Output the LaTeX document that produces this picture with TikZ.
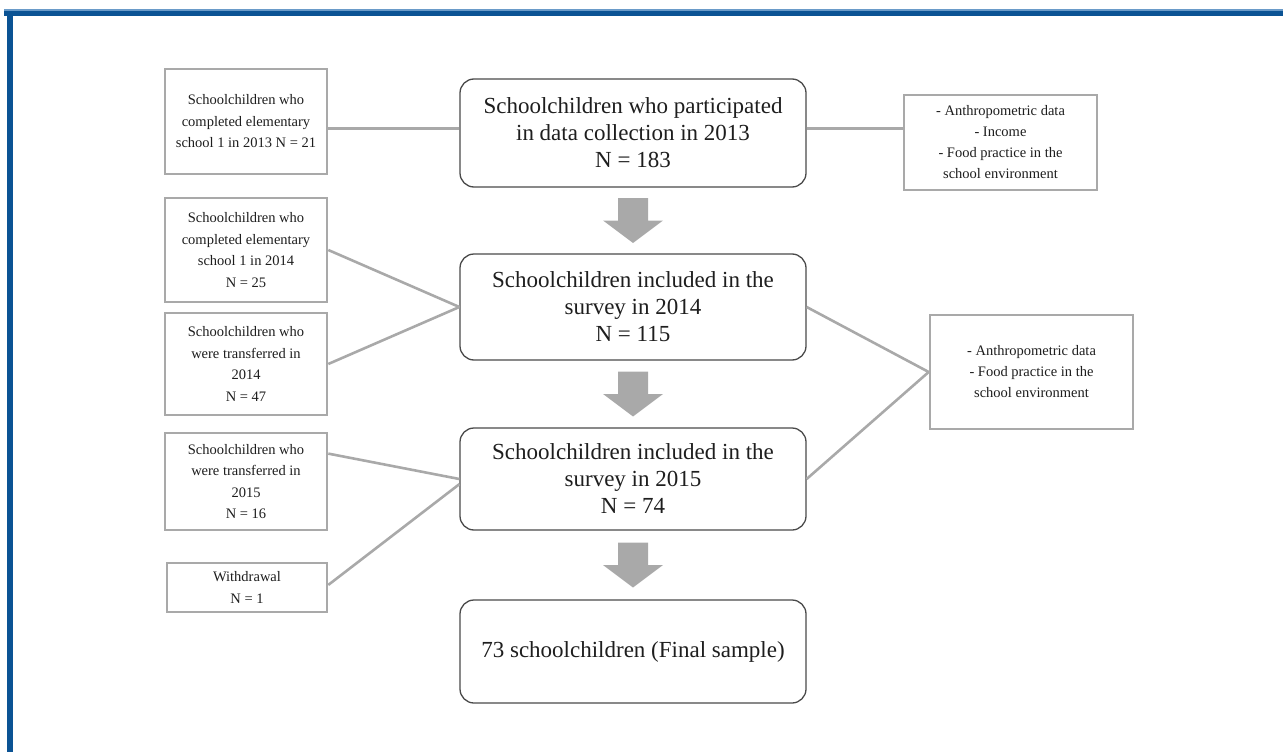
\documentclass[tikz,border=0pt]{standalone}
\usepackage{fontspec}
\setmainfont{Liberation Serif}
\usetikzlibrary{calc}
\definecolor{frameblue}{HTML}{0B5394}
\definecolor{framelight}{HTML}{6A9BC9}
\definecolor{boxgray}{HTML}{A9A9A9}
\definecolor{mainborder}{HTML}{4A4A4A}
\definecolor{txt}{HTML}{1E1E1E}
\tikzset{
  sidebox/.style={draw=boxgray, line width=2.6pt, fill=white, align=center, text=txt,
    font=\fontsize{14.5}{21.5}\selectfont, inner sep=2pt},
  mainbox/.style={draw=mainborder, line width=1.3pt, rounded corners=14pt, fill=white,
    align=center, text=txt, font=\fontsize{23}{27}\selectfont,
    minimum width=346pt, inner sep=2pt},
  infobox/.style={draw=boxgray, line width=2.6pt, fill=white, align=center, text=txt,
    font=\fontsize{14.5}{21}\selectfont, inner sep=2pt},
  link/.style={draw=boxgray, line width=2.6pt},
  blockarrow/.pic={\fill[boxgray] (-15,-22.5) -- (15,-22.5) -- (15,0) -- (30,0) -- (0,22.5)
     -- (-30,0) -- (-15,0) -- cycle;}
}
\begin{document}
\begin{tikzpicture}[x=1pt,y=-1pt]
\useasboundingbox (0,0) rectangle (1283,752);
% frame
\fill[framelight] (4,9.5) rectangle (1283,11);
\fill[frameblue] (4,11) rectangle (1283,16);
\fill[frameblue] (7,13) rectangle (13,752);

% main column
\node[mainbox, minimum height=108pt] (M1) at (633,133)
  {Schoolchildren who participated\\in data collection in 2013\\N = 183};
\node[mainbox, minimum height=106pt] (M2) at (633,307)
  {Schoolchildren included in the\\survey in 2014\\N = 115};
\node[mainbox, minimum height=102pt] (M3) at (633,479)
  {Schoolchildren included in the\\survey in 2015\\N = 74};
\node[mainbox, minimum height=103pt] (M4) at (633,651.5)
  {73 schoolchildren (Final sample)};

% left boxes
\node[sidebox, minimum width=162pt, minimum height=105pt] (L1) at (246,121.5)
  {Schoolchildren who\\completed elementary\\school 1 in 2013 N = 21};
\node[sidebox, minimum width=162pt, minimum height=104pt] (L2) at (246,250)
  {Schoolchildren who\\completed elementary\\school 1 in 2014\\N = 25};
\node[sidebox, minimum width=162pt, minimum height=102pt] (L3) at (246,364)
  {Schoolchildren who\\were transferred in\\2014\\N = 47};
\node[sidebox, minimum width=162pt, minimum height=97pt] (L4) at (246,481.5)
  {Schoolchildren who\\were transferred in\\2015\\N = 16};
\node[sidebox, minimum width=160pt, minimum height=49pt] (L5) at (247,587.5)
  {Withdrawal\\N = 1};

% right boxes
\node[infobox, minimum width=193pt, minimum height=95pt] (R1) at (1000.5,142.5)
  {- Anthropometric data\\- Income\\- Food practice in the\\school environment};
\node[infobox, minimum width=203pt, minimum height=114pt] (R2) at (1031.5,372)
  {- Anthropometric data\\- Food practice in the\\school environment};

% connectors
\coordinate (m1w) at ($(M1.north west)!0.46!(M1.south west)$);
\coordinate (m1e) at ($(M1.north east)!0.46!(M1.south east)$);
\draw[link] (m1w -| L1.east) -- (m1w);
\draw[link] (m1e) -- (m1e -| R1.west);
\draw[link] (L2.east) -- (M2.west);
\draw[link] (L3.east) -- (M2.west);
\draw[link] ($(L4.north east)!0.22!(L4.south east)$) -- ($(M3.north west)!0.5!(M3.south west)$);
\draw[link] ($(L5.north east)!0.45!(L5.south east)$) -- ($(M3.north west)!0.55!(M3.south west)$);
\draw[link] (M2.east) -- (R2.west);
\draw[link] (M3.east) -- (R2.west);

% block arrows
\path (M1.south) -- (M2.north) coordinate[midway] (a1);
\path (M2.south) -- (M3.north) coordinate[midway] (a2);
\path (M3.south) -- (M4.north) coordinate[midway] (a3);
\pic at (a1) {blockarrow};
\pic at (a2) {blockarrow};
\pic at (a3) {blockarrow};
\end{tikzpicture}
\end{document}
